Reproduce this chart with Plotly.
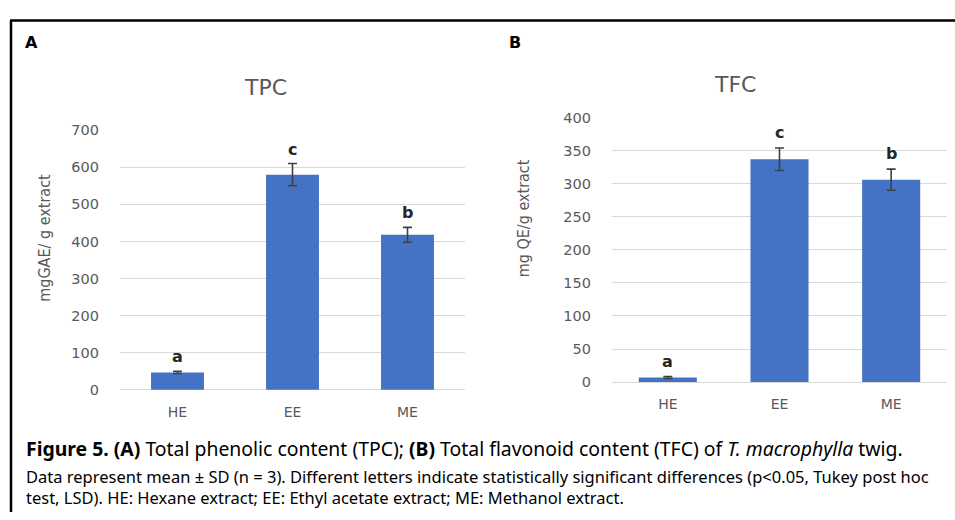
import plotly.graph_objects as go

categories = ["HE", "EE", "ME"]
tpc_values = [47, 580, 418]
tpc_sd = [3, 30, 20]
tpc_letters = ["a", "c", "b"]
tfc_values = [7, 337, 306]
tfc_sd = [1.5, 17, 16]
tfc_letters = ["a", "c", "b"]
tpc_ticks = [0, 100, 200, 300, 400, 500, 600, 700]
tfc_ticks = [0, 50, 100, 150, 200, 250, 300, 350, 400]

W, H = 955, 520
BAR = "#4472C4"
GREY = "#595959"
GRID = "#d9d9d9"
ERR = "#404040"
CHART_FONT = "DejaVu Sans"
NARROW = "Liberation Sans Narrow, DejaVu Sans Condensed, Liberation Sans"
CAP_FONT = "Noto Sans"


def px(x):
    return x / W


def py(y):
    return 1 - y / H


fig = go.Figure()
fig.add_trace(go.Bar(
    x=categories, y=tpc_values, width=0.46, marker=dict(color=BAR, line=dict(width=0)),
    error_y=dict(type="data", array=tpc_sd, visible=True, color=ERR, thickness=1.6, width=4.5),
    xaxis="x", yaxis="y", showlegend=False, hoverinfo="skip"))
fig.add_trace(go.Bar(
    x=categories, y=tfc_values, width=0.52, marker=dict(color=BAR, line=dict(width=0)),
    error_y=dict(type="data", array=tfc_sd, visible=True, color=ERR, thickness=1.6, width=4.5),
    xaxis="x2", yaxis="y2", showlegend=False, hoverinfo="skip"))

xcommon = dict(showgrid=False, showline=False, zeroline=False, ticks="",
               tickfont=dict(family=CHART_FONT, size=14, color=GREY), ticklabelstandoff=12,
               fixedrange=True)
ycommon = dict(showgrid=True, gridcolor=GRID, gridwidth=1, zeroline=True,
               zerolinecolor=GRID, zerolinewidth=1, showline=False, ticks="",
               tickfont=dict(family=CHART_FONT, size=14.5, color=GREY), ticklabelstandoff=20,
               fixedrange=True)

fig.update_layout(
    width=W, height=H, margin=dict(l=0, r=0, t=0, b=0),
    paper_bgcolor="white", plot_bgcolor="white",
    xaxis=dict(domain=[px(120), px(465)], anchor="y", **xcommon),
    yaxis=dict(domain=[py(394), py(126)], anchor="x", range=[0, 700], tickvals=tpc_ticks, **ycommon),
    xaxis2=dict(domain=[px(612), px(947)], anchor="y2", **xcommon),
    yaxis2=dict(domain=[py(386), py(113)], anchor="x2", range=[0, 400], tickvals=tfc_ticks, **ycommon),
)

ann = []
# significance letters
for cat, v, s, l in zip(categories, tpc_values, tpc_sd, tpc_letters):
    ann.append(dict(x=cat, y=v + s, xref="x", yref="y", text=f"<b>{l}</b>", showarrow=False,
                    xanchor="center", yanchor="bottom", yshift=3,
                    font=dict(family=CHART_FONT, size=16, color="#262626")))
for cat, v, s, l in zip(categories, tfc_values, tfc_sd, tfc_letters):
    ann.append(dict(x=cat, y=v + s, xref="x2", yref="y2", text=f"<b>{l}</b>", showarrow=False,
                    xanchor="center", yanchor="bottom", yshift=4,
                    font=dict(family=CHART_FONT, size=16, color="#262626")))


def label(x, y, text, font, anchor="center", angle=0):
    ann.append(dict(x=px(x), y=py(y), xref="paper", yref="paper", text=text, showarrow=False,
                    xanchor=anchor, yanchor="middle", textangle=angle, font=font))


# chart titles
label(265, 82, "TPC", dict(family=CHART_FONT, size=22, color=GREY))
label(735, 79, "TFC", dict(family=CHART_FONT, size=22, color=GREY))
# axis titles
label(45, 237, "mgGAE/ g extract", dict(family=NARROW, size=16, color=GREY), angle=-90)
label(523, 217, "mg QE/g extract", dict(family=NARROW, size=16, color=GREY), angle=-90)
# panel labels
label(31, 36, "<b>A</b>", dict(family="DejaVu Sans", size=16, color="black"))
label(515, 36, "<b>B</b>", dict(family="DejaVu Sans", size=16, color="black"))
# caption
label(24, 454, "<b>Figure 5. (A)</b> Total phenolic content (TPC); <b>(B)</b> Total flavonoid content (TFC) of <i>T. macrophylla</i> twig.",
      dict(family=CAP_FONT, size=19.4, color="black"), anchor="left")
label(24, 483, "Data represent mean ± SD (n = 3). Different letters indicate statistically significant differences (p<0.05, Tukey post hoc",
      dict(family=CAP_FONT, size=16.5, color="black"), anchor="left")
label(24, 505, "test, LSD). HE: Hexane extract; EE: Ethyl acetate extract; ME: Methanol extract.",
      dict(family=CAP_FONT, size=16.5, color="black"), anchor="left")
fig.update_layout(annotations=ann)

fig.update_layout(shapes=[
    dict(type="line", xref="paper", yref="paper", x0=px(10), x1=1, y0=py(13), y1=py(13),
         line=dict(color="black", width=2.5)),
    dict(type="line", xref="paper", yref="paper", x0=px(11), x1=px(11), y0=py(13), y1=0,
         line=dict(color="black", width=2.5)),
])

fig.write_html("out.html", config={"displayModeBar": False},
               post_script="document.body.style.margin='0';document.body.style.overflow='hidden';")
